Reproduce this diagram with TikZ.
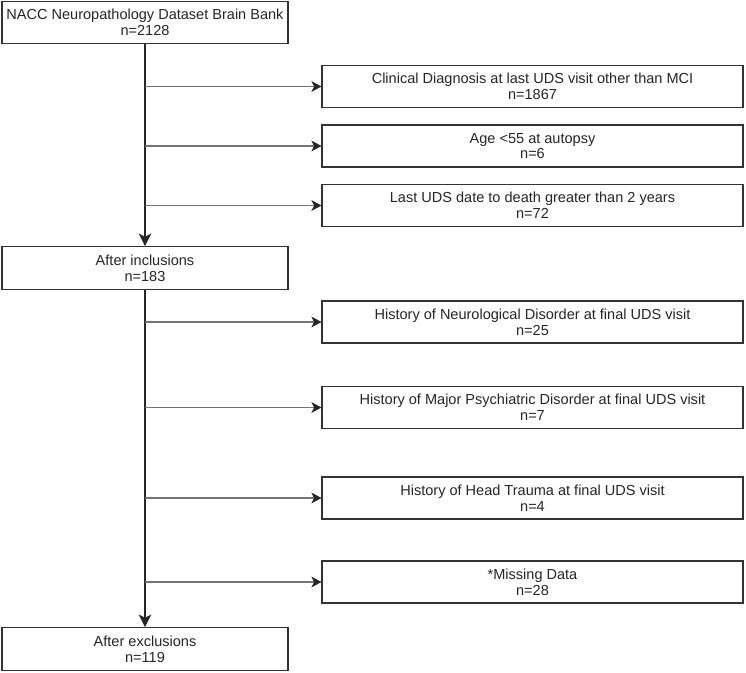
\documentclass[tikz,border=0pt]{standalone}
\usepackage{fontspec}
\setmainfont{Liberation Sans}
\usetikzlibrary{arrows.meta}
\tikzset{
  flowbox/.style={draw=black!80, line width=0.8pt, fill=white, inner sep=0pt, align=center,
    font={\fontsize{10.9}{11.8}\selectfont}, text=black!85},
  stagebox/.style={flowbox, minimum width=214.5pt, minimum height=32pt},
  exclbox/.style={flowbox, minimum width=315.75pt, minimum height=31.5pt},
  spine/.style={black!85, line width=1pt, -{Stealth[length=9.5pt, width=9.5pt, inset=2.5pt]}},
  branch/.style={black!55, line width=0.8pt, -{Stealth[length=7.5pt, width=8pt, inset=2pt, black!85]}}
}
\begin{document}
\begin{tikzpicture}[x=0.75pt,y=-0.75pt]
\useasboundingbox (0,0) rectangle (746,672);
\node[stagebox] (start) at (145,22.5) {NACC Neuropathology Dataset Brain Bank\\n=2128};
\node[stagebox] (incl) at (145,268) {After inclusions\\n=183};
\node[stagebox] (excl) at (145,649) {After exclusions\\n=119};
\node[exclbox] (diag) at (532.5,86.5) {Clinical Diagnosis at last UDS visit other than MCI\\n=1867};
\node[exclbox] (age) at (532.5,146) {Age {<}55 at autopsy\\n=6};
\node[exclbox] (lastuds) at (532.5,205.5) {Last UDS date to death greater than 2 years\\n=72};
\node[exclbox] (neuro) at (532.5,322) {History of Neurological Disorder at final UDS visit\\n=25};
\node[exclbox] (psych) at (532.5,407.5) {History of Major Psychiatric Disorder at final UDS visit\\n=7};
\node[exclbox] (trauma) at (532.5,498) {History of Head Trauma at final UDS visit\\n=4};
\node[exclbox] (missing) at (532.5,582) {*Missing Data\\n=28};
\draw[spine] (start.south) -- (incl.north);
\draw[spine] (incl.south) -- (excl.north);
\foreach \crit in {diag,age,lastuds,neuro,psych,trauma,missing}{
  \coordinate (s-\crit) at (start.south |- \crit.west);
  \draw[branch] (s-\crit) -- (\crit.west);
}
\end{tikzpicture}
\end{document}
